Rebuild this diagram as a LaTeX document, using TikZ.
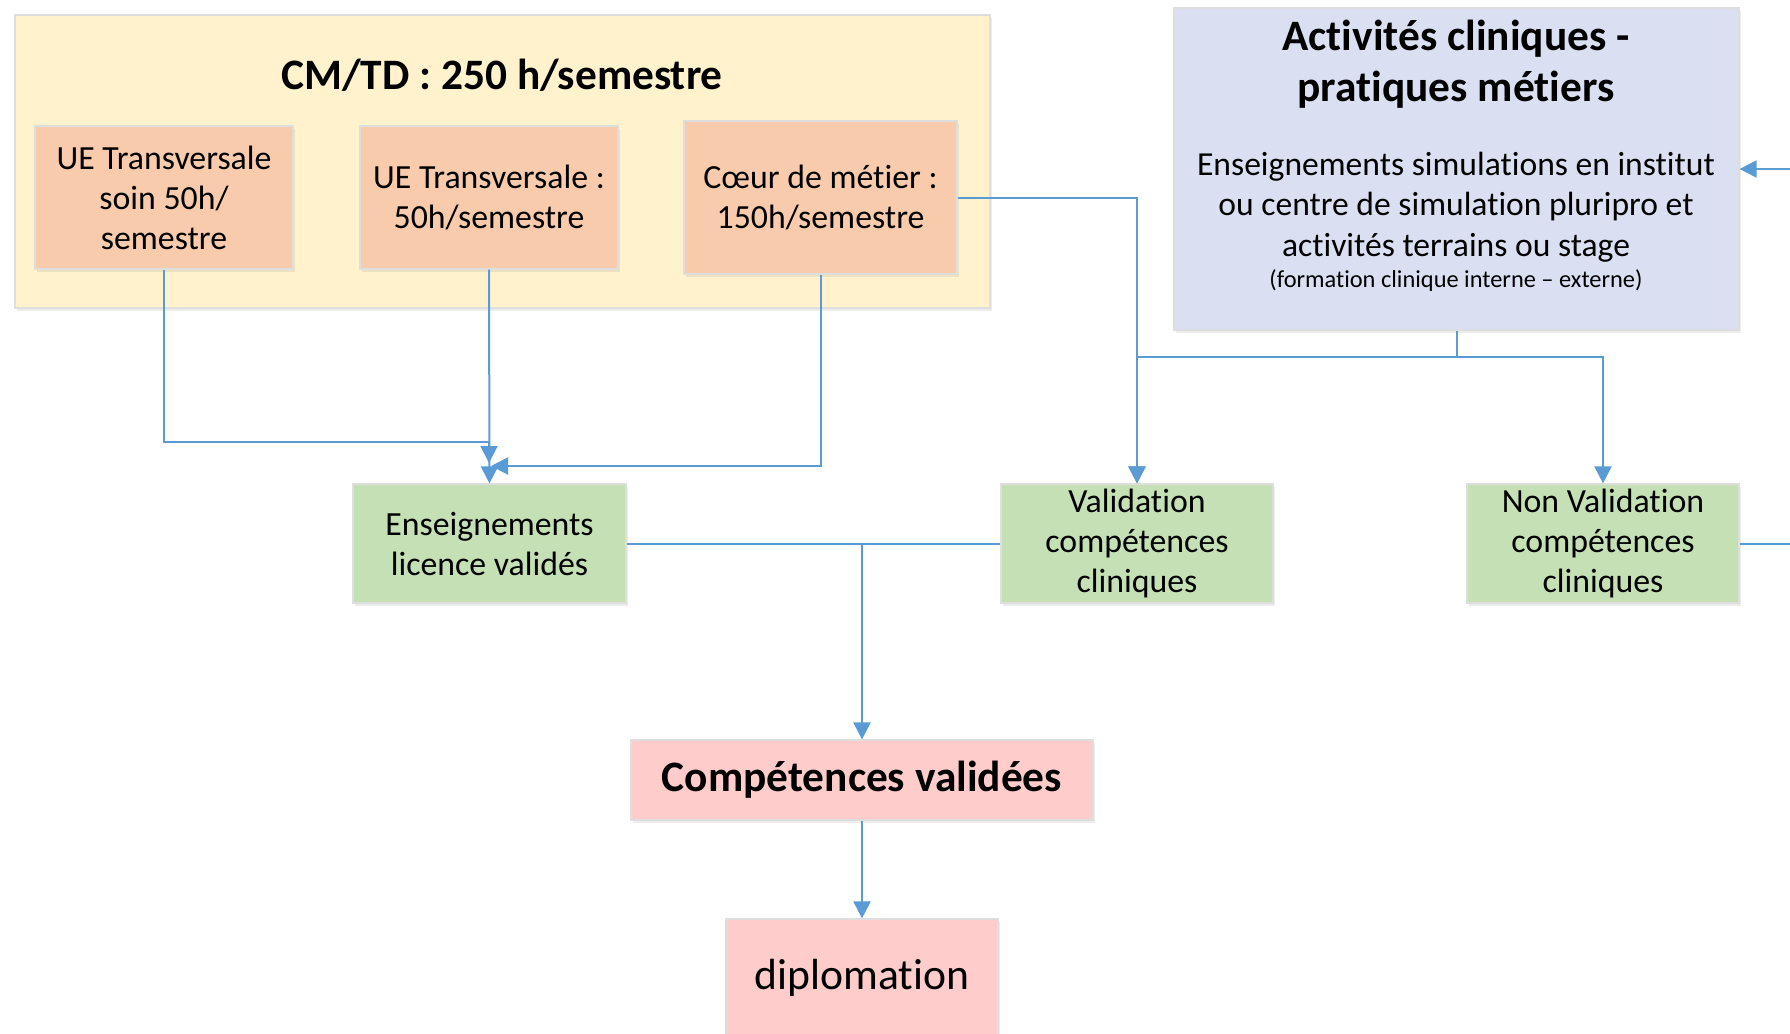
\documentclass[tikz,border=0pt]{standalone}
\usepackage{fontspec}
\setmainfont{Carlito}[Ligatures=NoCommon]
\usetikzlibrary{arrows.meta,shadows}

\definecolor{linkblue}{HTML}{5B9BD5}
\definecolor{cmtdfill}{HTML}{FFF2CC}
\definecolor{uefill}{HTML}{F8CBAD}
\definecolor{actfill}{HTML}{DAE0F2}
\definecolor{okfill}{HTML}{C5E0B4}
\definecolor{pinkfill}{HTML}{FFCCCC}

\tikzset{
    box/.style={rectangle, draw=black!13, line width=0.6pt, inner sep=0pt, align=center,
        drop shadow={opacity=0.15, shadow xshift=1pt, shadow yshift=-1.5pt}},
    link/.style={draw=linkblue, line width=1pt, -{Triangle[length=8.5pt,width=8.5pt]}},
    wire/.style={draw=linkblue, line width=1pt},
    body/.style={font=\fontsize{16.9}{20}\selectfont},
}

\begin{document}
\begin{tikzpicture}[x=0.5pt,y=-0.5pt]
    \useasboundingbox (0,0) rectangle (1790,1034);
    \clip (0,0) rectangle (1790,1034);
    \node[box, fill=cmtdfill, minimum width=487.5pt, minimum height=146.5pt] (cmtd) at (502.5,161.5) {};
    \node[font=\bfseries\fontsize{21.7}{26}\selectfont] (cmtdtitle) at (502,75) {CM/TD : 250 h/semestre};
    \node[box, body, fill=uefill, minimum width=129pt, minimum height=71.5pt] (ue1) at (164,197.5) {UE Transversale\\soin 50h/\\semestre};
    \node[box, body, fill=uefill, minimum width=129pt, minimum height=71.5pt] (ue2) at (489,197.5) {UE Transversale :\\50h/semestre};
    \node[box, body, fill=uefill, minimum width=136.5pt, minimum height=76.5pt] (coeur) at (820.5,197.5) {Cœur de métier :\\150h/semestre};
    \node[box, fill=actfill, minimum width=282.5pt, minimum height=161pt] (act) at (1456.5,169) {};
    \node[align=center, font=\bfseries\fontsize{21.7}{25.5}\selectfont] (acttitle) at (1456,64) {Activités cliniques -\\pratiques métiers};
    \node[align=center, font=\fontsize{16.8}{20.3}\selectfont] (actbody) at (1456,207) {Enseignements simulations en institut\\ou centre de simulation pluripro et\\activités terrains ou stage};
    \node[font=\fontsize{12.2}{14}\selectfont] (actnote) at (1456,281) {(formation clinique interne – externe)};
    \node[box, body, fill=okfill, minimum width=136.5pt, minimum height=59.5pt] (ens) at (489.5,543.5) {Enseignements\\licence validés};
    \node[box, body, fill=okfill, minimum width=136pt, minimum height=59.5pt] (val) at (1137,543.5) {Validation\\compétences\\cliniques};
    \node[box, body, fill=okfill, minimum width=136pt, minimum height=59.5pt] (nonval) at (1603,543.5) {Non Validation\\compétences\\cliniques};
    \node[box, fill=pinkfill, minimum width=231pt, minimum height=40pt, font=\bfseries\fontsize{21.7}{26}\selectfont] (comp) at (862,780) {Compétences validées};
    \node[box, fill=pinkfill, minimum width=136pt, minimum height=59pt, font=\fontsize{21.8}{26}\selectfont] (diplo) at (862,978) {diplomation};
    \coordinate (meetup) at (489,463);
    \coordinate (meetright) at (491,466);
    \draw[link] (ue1.south) -- ++(0,172) -| (meetup);
    \draw[link] (ue2.south) -- (ens.north);
    \draw[link] (coeur.south) |- (meetright);
    \draw[link] (coeur.east) -| (val.north);
    \draw[link] (act.south) -- ++(0,26) -| (val.north);
    \draw[link] (act.south) -- ++(0,26) -| (nonval.north);
    \draw[wire] (ens.east) -- (val.west);
    \draw[link] (ens.east -| comp.north) -- (comp.north);
    \draw[link] (comp.south) -- (diplo.north);
    \draw[link] (nonval.east) -- ++(80,0) |- (act.east);
\end{tikzpicture}
\end{document}
